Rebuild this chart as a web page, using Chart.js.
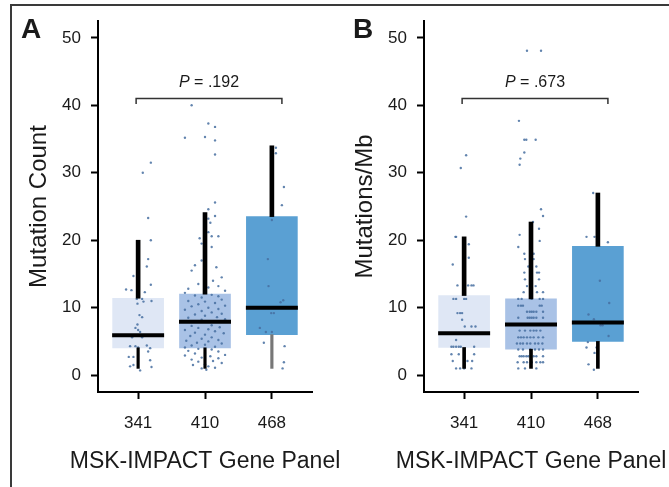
<!DOCTYPE html>
<html>
<head>
<meta charset="utf-8">
<script src="https://cdn.jsdelivr.net/npm/chart.js@4.4.1/dist/chart.umd.min.js"></script>
<style>
  html, body { margin: 0; padding: 0; background: #fff; }
  #wrap { position: relative; width: 669px; height: 487px; overflow: hidden; }
  #frame { position: absolute; left: 10px; top: 4px; width: 700px; height: 520px;
           border-left: 2px solid #3a3a3a; border-top: 2px solid #3a3a3a; }
  canvas { position: absolute; top: 0; }
  #chartA { left: 0; }
  #chartB { left: 326px; }
</style>
</head>
<body>
<div id="wrap">
  <div id="frame"></div>
  <canvas id="chartA" width="343" height="487"></canvas>
  <canvas id="chartB" width="343" height="487"></canvas>
</div>
<script>
// ===== DATA =====
const panels = ["341", "410", "468"];
const yTicks = [0, 10, 20, 30, 40, 50];
const xTitle = "MSK-IMPACT Gene Panel";

// A: mutation count (box stats per panel)
const countMin = [1, 1, 1];
const countQ1 = [4.05, 4.05, 6];
const countMedian = [5.9, 7.9, 10];
const countQ3 = [11.4, 12, 23.5];
const countMax = [20, 24.1, 34];

// B: mutations per Mb
const mbMin = [1, 1, 1];
const mbQ1 = [4.1, 3.85, 5];
const mbMedian = [6.2, 7.5, 7.8];
const mbQ3 = [11.8, 11.3, 19.1];
const mbMax = [20.5, 22.7, 27];

// comparison brackets
const pTexts = [".192", ".673"];
const bracketX = [0.97, 3.15];
const bracketY = 41;

// individual samples: [horizontal jitter, value]
const countPts341 = [
  [0.07, 30], [0.19, 31.5], [0.15, 23.3], [0.19, 20], [0.15, 17.2], [0.13, 16.1], [-0.07, 14.7],
  [-0.18, 12.7], [-0.1, 12.6], [0.19, 13.4], [0.1, 12.3], [-0.02, 11.3], [0.06, 11.3], [0.08, 10.9],
  [0.2, 11], [-0.01, 10.6], [0.02, 8.9], [0.06, 8.6], [-0.01, 7.5], [-0.04, 7], [0, 6.7], [0.03, 6.4],
  [-0.09, 5.6], [0.06, 5.6], [-0.04, 4.3], [-0.12, 4.3], [0, 4.1], [0.13, 4.4], [0.18, 4], [0.15, 3.5],
  [-0.14, 2.7], [-0.07, 2.7], [0.18, 2.2], [-0.12, 1.3], [-0.07, 1.5], [0.2, 1.2], [0.03, 0.7]
];
const countPts410 = [
  [-0.2, 40], [0.05, 37.3], [0.15, 36.8], [-0.3, 35.2], [0, 35.3], [0.15, 34.8], [0.15, 32.7],
  [0.15, 25.6], [0.05, 24.6], [0, 23.9], [0.15, 23.6], [0.05, 23.2], [0.08, 22.6], [-0.08, 20.3],
  [0.1, 20.6], [0.05, 21.2], [-0.05, 19.5], [0.1, 19], [0.2, 20.6],
  [-0.05, 17], [-0.15, 16.3], [0, 15.7], [0.17, 16], [-0.2, 15.5], [0.25, 14.5], [0, 14.3], [0.12, 14],
  [-0.1, 13.5], [0.2, 13.2], [-0.25, 12.8], [0.05, 13], [0.3, 12.5], [-0.3, 12.2],
  [-0.15, 11.8], [0.1, 11.9], [0.2, 11.7], [-0.05, 11.5], [0.25, 11.2], [-0.25, 11], [0, 10.9],
  [0.15, 10.7], [-0.1, 10.5], [0.3, 10.3], [-0.2, 10.2], [0.05, 10], [0.2, 9.8], [-0.3, 9.7],
  [-0.05, 9.5], [0.1, 9.3], [0.25, 9.1], [-0.15, 9], [0, 8.8], [0.18, 8.6], [-0.25, 8.5], [0.3, 8.3],
  [-0.05, 8.2], [0.1, 7.4], [-0.2, 7.3], [0.22, 7.1], [-0.1, 7], [0.05, 6.8], [-0.3, 6.7], [0.15, 6.5],
  [-0.15, 6.3], [0.28, 6.2], [0, 6], [-0.22, 5.8], [0.1, 5.6], [-0.05, 5.4], [0.2, 5.2], [-0.28, 5.1],
  [0.05, 5], [-0.12, 4.8], [0.25, 4.7], [0, 4.5], [-0.2, 4.4], [0.15, 4.2], [-0.3, 4.1],
  [-0.1, 3.9], [0.1, 3.8], [-0.25, 3.6], [0.2, 3.5], [0, 3.3], [-0.15, 3.2], [0.3, 3], [-0.3, 2.9],
  [0.08, 2.8], [-0.05, 2.6], [0.2, 2.5], [-0.2, 2.3], [0.12, 2.1], [-0.1, 2], [0.25, 1.8], [0, 1.6],
  [-0.18, 1.5], [0.05, 1.3], [0.15, 1.1], [-0.05, 1], [0.02, 0.8]
];
const countPts468 = [
  [0.06, 33.7], [0.06, 32.9], [0.18, 27.9], [0.15, 25.2], [0, 25.8], [0, 23], [-0.06, 17.2],
  [-0.05, 13.2], [0.17, 11.1], [0.13, 10.8], [-0.01, 9.2], [0.03, 9.2], [-0.18, 7], [-0.09, 6.4],
  [0, 6.4], [-0.12, 4.8], [0.19, 4.3], [0.18, 1.9], [0.16, 1]
];
const mbPts341 = [
  [0.03, 32.6], [-0.05, 30.7], [0.03, 23.5], [-0.13, 20.5], [-0.12, 20.5], [0.07, 19.4], [0.07, 17.4],
  [-0.17, 16.4], [-0.1, 13.3], [0.06, 13.3], [0.11, 13.3], [0.14, 13.3], [-0.16, 11.3], [-0.12, 11.3],
  [0, 11.3], [0.03, 11.3], [-0.1, 9.2], [-0.06, 9.2], [-0.03, 9.2], [-0.03, 8.2], [0.01, 7.2],
  [0.11, 7.2], [0.17, 7.2], [-0.2, 6.2], [-0.15, 6.2], [-0.1, 6.2], [-0.05, 6.2], [0.05, 6.2],
  [0.1, 6.2], [0.15, 6.2], [-0.12, 5.2], [-0.19, 4.2], [-0.16, 4.2], [-0.12, 4.2], [-0.08, 4.2],
  [-0.05, 4.2], [0.15, 4.2], [-0.19, 3.1], [-0.08, 3.1], [0.15, 3.1], [-0.17, 2.1], [0.05, 2.1],
  [0.12, 2.1], [-0.12, 1], [-0.06, 1], [0, 1], [0.11, 1]
];
const mbPts410 = [
  [-0.06, 48.1], [0.15, 48.1], [-0.18, 37.7], [-0.1, 34.9], [-0.07, 34.9], [0.07, 34.9], [-0.1, 33],
  [-0.16, 32.1], [-0.17, 31.2], [0.15, 24.6], [0.18, 23.6], [0.03, 22.7], [0.12, 21.7], [-0.17, 20.8],
  [0.13, 19.9], [-0.19, 19], [-0.1, 18], [0.04, 18], [-0.09, 17.2], [0.04, 17.2], [-0.04, 16.1],
  [0.08, 16.1], [-0.1, 15.2], [0.09, 15.2], [0.12, 15.2], [-0.09, 14.2], [0.12, 14.2], [-0.06, 13.2],
  [0.07, 13.2], [-0.11, 12.3], [0.09, 12.3], [0.18, 12.3],
  [-0.19, 11.3], [-0.14, 11.3], [0.01, 11.3], [0.13, 11.3], [0.18, 11.3],
  [-0.19, 10.3], [-0.15, 10.3], [-0.12, 10.3], [0.13, 10.3], [0.16, 10.3],
  [-0.06, 9.4], [-0.02, 9.4], [0.01, 9.4], [0.04, 9.4], [0.08, 9.4], [0.18, 9.4],
  [-0.19, 8.5], [-0.05, 8.5], [-0.02, 8.5], [0.01, 8.5], [0.04, 8.5], [0.08, 8.5], [0.18, 8.5],
  [-0.22, 7.5], [-0.12, 7.5], [-0.05, 7.5], [0.05, 7.5], [0.12, 7.5], [0.2, 7.5],
  [-0.17, 6.6], [-0.09, 6.6], [-0.01, 6.6], [0.04, 6.6], [0.08, 6.6], [0.14, 6.6],
  [-0.19, 5.6], [-0.15, 5.6], [-0.11, 5.6], [-0.06, 5.6], [-0.01, 5.6], [0.04, 5.6], [0.11, 5.6], [0.18, 5.6],
  [-0.21, 4.7], [-0.16, 4.7], [-0.12, 4.7], [-0.06, 4.7], [-0.01, 4.7], [0.06, 4.7], [0.11, 4.7], [0.17, 4.7],
  [-0.19, 3.8], [-0.12, 3.8], [-0.01, 3.8], [0.06, 3.8], [0.12, 3.8], [0.18, 3.8],
  [-0.17, 2.8], [-0.14, 2.8], [-0.11, 2.8], [-0.07, 2.8], [-0.04, 2.8], [0.04, 2.8], [0.08, 2.8], [0.18, 2.8],
  [-0.2, 1.9], [-0.11, 1.9], [-0.06, 1.9], [0.01, 1.9], [0.08, 1.9], [0.14, 1.9], [0.18, 1.9],
  [-0.19, 1], [-0.09, 1], [0.08, 1]
];
const mbPts468 = [
  [-0.07, 27], [-0.17, 20.5], [-0.05, 20.5], [0.15, 19.7], [0.03, 14], [0.17, 10.7], [-0.14, 9],
  [-0.06, 8.3], [0.04, 7.4], [0.07, 7.4], [0.16, 5.8], [-0.15, 4.9], [-0.17, 4.1], [-0.02, 4.1],
  [-0.05, 3.3], [-0.14, 1.6], [-0.06, 0.8]
];

// ===== STYLE =====
const FONT = "'Liberation Sans', Arial, sans-serif";
const boxColors = ["#dfe7f5", "#a9c2e6", "#5aa0d3"];
const TEXT = "#1a1a1a";

// ===== PANEL TEXT PLUGIN =====
const panelText = {
  id: "panelText",
  afterDraw(chart, args, o) {
    const { ctx, chartArea: a, scales: { x, y } } = chart;
    ctx.save();
    ctx.fillStyle = TEXT;

    // axis titles
    ctx.font = "24px " + FONT;
    ctx.textAlign = "center";
    ctx.textBaseline = "middle";
    ctx.save();
    ctx.translate(o.yTitleX, (a.top + a.bottom) / 2);
    ctx.rotate(-Math.PI / 2);
    ctx.fillText(o.yTitle, 0, 0);
    ctx.restore();
    ctx.font = "23px " + FONT;
    ctx.fillText(xTitle, (a.left + a.right) / 2, 462);

    // panel letter
    ctx.font = "bold 28px " + FONT;
    ctx.textAlign = "left";
    ctx.textBaseline = "alphabetic";
    ctx.fillText(o.letter, o.letterX, 38);

    // bracket
    const x0 = x.getPixelForValue(bracketX[0]);
    const x1 = x.getPixelForValue(bracketX[1]);
    const yb = y.getPixelForValue(bracketY);
    const ye = y.getPixelForValue(bracketY - 0.8);
    ctx.strokeStyle = "#333";
    ctx.lineWidth = 1.5;
    ctx.beginPath();
    ctx.moveTo(x0, ye);
    ctx.lineTo(x0, yb);
    ctx.lineTo(x1, yb);
    ctx.lineTo(x1, ye);
    ctx.stroke();

    // P value
    const rest = " = " + o.p;
    ctx.font = "italic 16px " + FONT;
    const w1 = ctx.measureText("P").width;
    ctx.font = "16px " + FONT;
    const w2 = ctx.measureText(rest).width;
    const start = (x0 + x1) / 2 - (w1 + w2) / 2;
    const ty = y.getPixelForValue(bracketY + 1.7);
    ctx.font = "italic 16px " + FONT;
    ctx.fillText("P", start, ty);
    ctx.font = "16px " + FONT;
    ctx.fillText(rest, start + w1, ty);
    ctx.restore();
  }
};

function makePanel(id, mins, q1, med, q3, maxs, pts, opts) {
  const at = (i) => i + 1;
  const lowerColors = opts.lowerColors;

  const pointData = [];
  pts.forEach((list, i) => {
    list.forEach(([dx, v]) => pointData.push({ x: at(i) + dx, y: v }));
  });

  return new Chart(document.getElementById(id), {
    type: "bar",
    data: {
      datasets: [
        {
          label: "box",
          data: panels.map((p, i) => ({ x: at(i), y: [q1[i], q3[i]] })),
          backgroundColor: boxColors,
          barThickness: 51,
          grouped: false,
          order: 4
        },
        {
          label: "points",
          type: "scatter",
          data: pointData,
          pointRadius: 1.2,
          pointBackgroundColor: "rgba(70,110,160,0.85)",
          pointBorderWidth: 0,
          order: 3
        },
        {
          label: "upper whisker",
          data: panels.map((p, i) => ({ x: at(i), y: [q3[i], maxs[i]] })),
          backgroundColor: "#000",
          barThickness: 4,
          grouped: false,
          order: 2
        },
        {
          label: "lower whisker",
          data: panels.map((p, i) => ({ x: at(i), y: [mins[i], q1[i]] })),
          backgroundColor: lowerColors,
          barThickness: opts.lowerWidth,
          grouped: false,
          order: 2
        },
        {
          label: "median",
          type: "scatter",
          data: panels.map((p, i) => ({ x: at(i), y: med[i] })),
          pointStyle: "line",
          pointRadius: 26,
          borderColor: "#000",
          pointBorderColor: "#000",
          pointBorderWidth: 4,
          order: 1
        }
      ]
    },
    options: {
      responsive: false,
      animation: false,
      devicePixelRatio: 1,
      layout: { autoPadding: false, padding: { top: 21, right: 31, bottom: 0, left: 0 } },
      plugins: {
        legend: { display: false },
        tooltip: { enabled: false },
        panelText: opts.text
      },
      scales: {
        x: {
          type: "linear",
          offset: false,
          min: 0.4,
          max: 3.6,
          afterBuildTicks: (s) => { s.ticks = panels.map((p, i) => ({ value: at(i) })); },
          afterFit: (s) => { s.height = 95; s.paddingLeft = 0; s.paddingRight = 0; },
          ticks: {
            callback: (v) => panels[Math.round(v) - 1],
            font: { size: 17, family: FONT },
            color: TEXT,
            padding: 14
          },
          grid: { offset: false, drawOnChartArea: false, drawTicks: true, tickLength: 7, tickWidth: 2, tickColor: "#000" },
          border: { display: true, color: "#000", width: 2 }
        },
        y: {
          type: "linear",
          min: -2.5,
          max: 52.5,
          afterBuildTicks: (s) => { s.ticks = yTicks.map((v) => ({ value: v })); },
          afterFit: (s) => { s.width = 98; s.paddingTop = 0; s.paddingBottom = 0; },
          ticks: {
            font: { size: 17, family: FONT },
            color: TEXT,
            padding: 10
          },
          grid: { drawOnChartArea: false, drawTicks: true, tickLength: 7, tickWidth: 2, tickColor: "#000" },
          border: { display: true, color: "#000", width: 2 }
        }
      }
    },
    plugins: [panelText]
  });
}

makePanel("chartA", countMin, countQ1, countMedian, countQ3, countMax,
  [countPts341, countPts410, countPts468],
  {
    lowerColors: ["#000", "#000", "#777"],
    lowerWidth: 2.5,
    text: { yTitle: "Mutation Count", yTitleX: 39, letter: "A", letterX: 21, p: pTexts[0] }
  });

makePanel("chartB", mbMin, mbQ1, mbMedian, mbQ3, mbMax,
  [mbPts341, mbPts410, mbPts468],
  {
    lowerColors: ["#000", "#000", "#000"],
    lowerWidth: 3,
    text: { yTitle: "Mutations/Mb", yTitleX: 39, letter: "B", letterX: 27, p: pTexts[1] }
  });
</script>
</body>
</html>
